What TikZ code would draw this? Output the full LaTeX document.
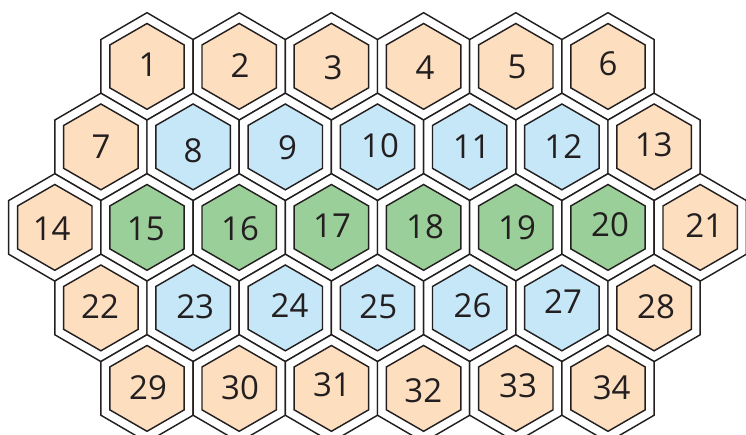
\documentclass[tikz,border=0pt]{standalone}
\usepackage{fontspec}
\setmainfont{Open Sans}
\definecolor{peach}{HTML}{FDDFC0}
\definecolor{skyb}{HTML}{C6E7F8}
\definecolor{leaf}{HTML}{9BCF99}
\definecolor{linecol}{HTML}{231F20}
\tikzset{
  hexline/.style={draw=linecol, line width=1.45pt, line join=miter},
  lab/.style={font=\fontsize{33}{33}\selectfont, text=linecol, inner sep=0pt}
}
\newcommand\outerhex[2]{\draw[hexline, fill=white] (#1,#2) ++(0,-53.7) -- ++(46.1,26.85) -- ++(0,53.7) -- ++(-46.1,26.85) -- ++(-46.1,-26.85) -- ++(0,-53.7) -- cycle;}
\newcommand\innerhex[3]{\draw[hexline, fill=#3] (#1,#2) ++(0,-42.9) -- ++(37.2,21.45) -- ++(0,42.9) -- ++(-37.2,21.45) -- ++(-37.2,-21.45) -- ++(0,-42.9) -- cycle;}
\begin{document}
\begin{tikzpicture}[x=1pt,y=-1pt]
\useasboundingbox (0,0) rectangle (746,435);
\def\cells{1/147/66.4/peach/148/65, 2/239.2/66.4/peach/240/66, 3/331.4/66.4/peach/333/68, 4/423.6/66.4/peach/425/68, 5/515.8/66.4/peach/517/67, 6/608/66.4/peach/608/64,
7/100.9/146.9/peach/101/147, 8/193.1/146.9/skyb/193/151, 9/285.3/146.9/skyb/287.5/147.5, 10/377.5/146.9/skyb/380/146, 11/469.7/146.9/skyb/471.7/146.7, 12/561.9/146.9/skyb/563.3/146.7, 13/654.1/146.9/peach/653.7/145,
14/54.8/227.4/peach/51.7/228.3, 15/147/227.4/leaf/145.8/228.7, 16/239.2/227.4/leaf/240/229, 17/331.4/227.4/leaf/332/226, 18/423.6/227.4/leaf/425/227.2, 19/515.8/227.4/leaf/517/228, 20/608/227.4/leaf/610/225, 21/700.2/227.4/peach/704.3/225.3,
22/100.9/307.9/peach/100/307, 23/193.1/307.9/skyb/195.2/306.7, 24/285.3/307.9/skyb/289.5/305.3, 25/377.5/307.9/skyb/378.3/306.7, 26/469.7/307.9/skyb/472.5/305.5, 27/561.9/307.9/skyb/563/302, 28/654.1/307.9/peach/656/307,
29/147/388.4/peach/148/388, 30/239.2/388.4/peach/240/388, 31/331.4/388.4/peach/332/385, 32/423.6/388.4/peach/423.3/390.5, 33/515.8/388.4/peach/518/386, 34/608/388.4/peach/611.7/388}
\foreach \n/\cx/\cy/\c/\lx/\ly in \cells {\outerhex{\cx}{\cy}}
\foreach \n/\cx/\cy/\c/\lx/\ly in \cells {\innerhex{\cx}{\cy}{\c}}
\foreach \n/\cx/\cy/\c/\lx/\ly in \cells {\node[lab] (n\n) at (\lx,\ly) {\n};}
\end{tikzpicture}
\end{document}
